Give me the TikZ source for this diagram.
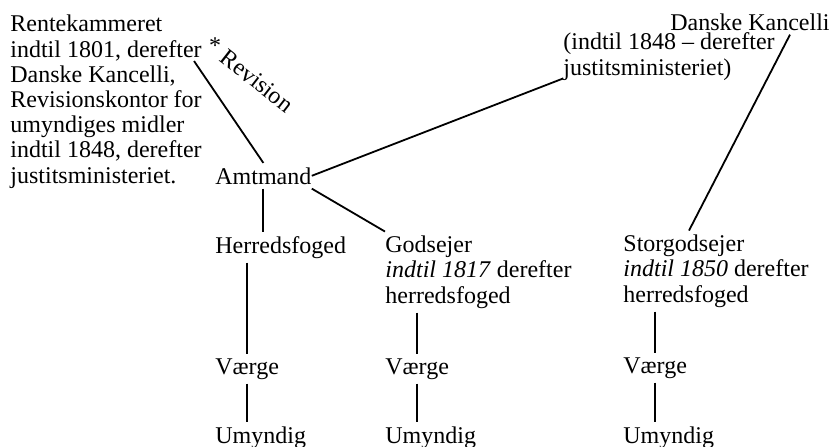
\documentclass[tikz,border=0pt]{standalone}
\usepackage{fontspec}
\setmainfont{Liberation Serif}
\usetikzlibrary{positioning, calc}
\tikzset{
  txt/.style={ anchor=base west, inner xsep=0pt, inner ysep=2pt, align=left, font=\fontsize{12}{12.6}\selectfont }
}
\tikzset{
  link/.style={ line width=0.9pt }
}

\begin{document}
\begin{tikzpicture}[x=0.5pt, y=-0.5pt]
      \useasboundingbox (0, 0) rectangle (835, 446);
      % top level (multi-line nodes sit on their last line)
      \node[txt] (rk) at (10, 183) {Rentekammeret\\indtil 1801, derefter\\Danske Kancelli,\\Revisionskontor for\\umyndiges midler\\indtil 1848, derefter\\justitsministeriet.};
      \coordinate (rkout) at (194, 61);
      \node[txt, anchor=center] (ast) at (215, 46) {*};
      \node[txt, anchor=center, rotate=-38] (rev) at (257, 81) {Revision};
      \node[txt, anchor=base east] (dk) at (830, 30) {Danske Kancelli};
      \node[txt] (dkj) at (563, 75) {(indtil 1848 -- derefter\\justitsministeriet)};
      \node[txt] (amt) at (215, 184) {Amtmand};
      % second level
      \node[txt] (herred) at (215, 253) {Herredsfoged};
      \node[txt] (gods) at (385, 303) {Godsejer\\\textit{indtil 1817} derefter\\herredsfoged};
      \node[txt] (storg) at (623, 302) {Storgodsejer\\\textit{indtil 1850} derefter\\herredsfoged};
      % guardians and wards
      \node[txt] (v1) at (215, 374) {Værge};
      \node[txt] (v2) at (385, 374) {Værge};
      \node[txt] (v3) at (623, 373) {Værge};
      \node[txt] (u1) at (215, 443) {Umyndig};
      \node[txt] (u2) at (385, 443) {Umyndig};
      \node[txt] (u3) at (623, 443) {Umyndig};
      \draw[link] (rkout) -- (amt.north);
      \draw[link] (amt.east) -- ([yshift=3pt]dkj.south west);
      \draw[link] ([xshift=-20pt]dk.south east) -- ([xshift=33pt]storg.north west);
      \draw[link] (amt.south) -- (amt.south |- herred.north);
      \draw[link] (amt.south east) -- (gods.north west);
      \draw[link] (v1.north |- herred.south) -- (v1.north);
      \draw[link] (v2.north |- gods.south) -- (v2.north);
      \draw[link] (v3.north |- storg.south) -- (v3.north);
      \draw[link] (v1.south) -- (v1.south |- u1.north);
      \draw[link] (v2.south) -- (v2.south |- u2.north);
      \draw[link] (v3.south) -- (v3.south |- u3.north);
    \end{tikzpicture}
\end{document}
